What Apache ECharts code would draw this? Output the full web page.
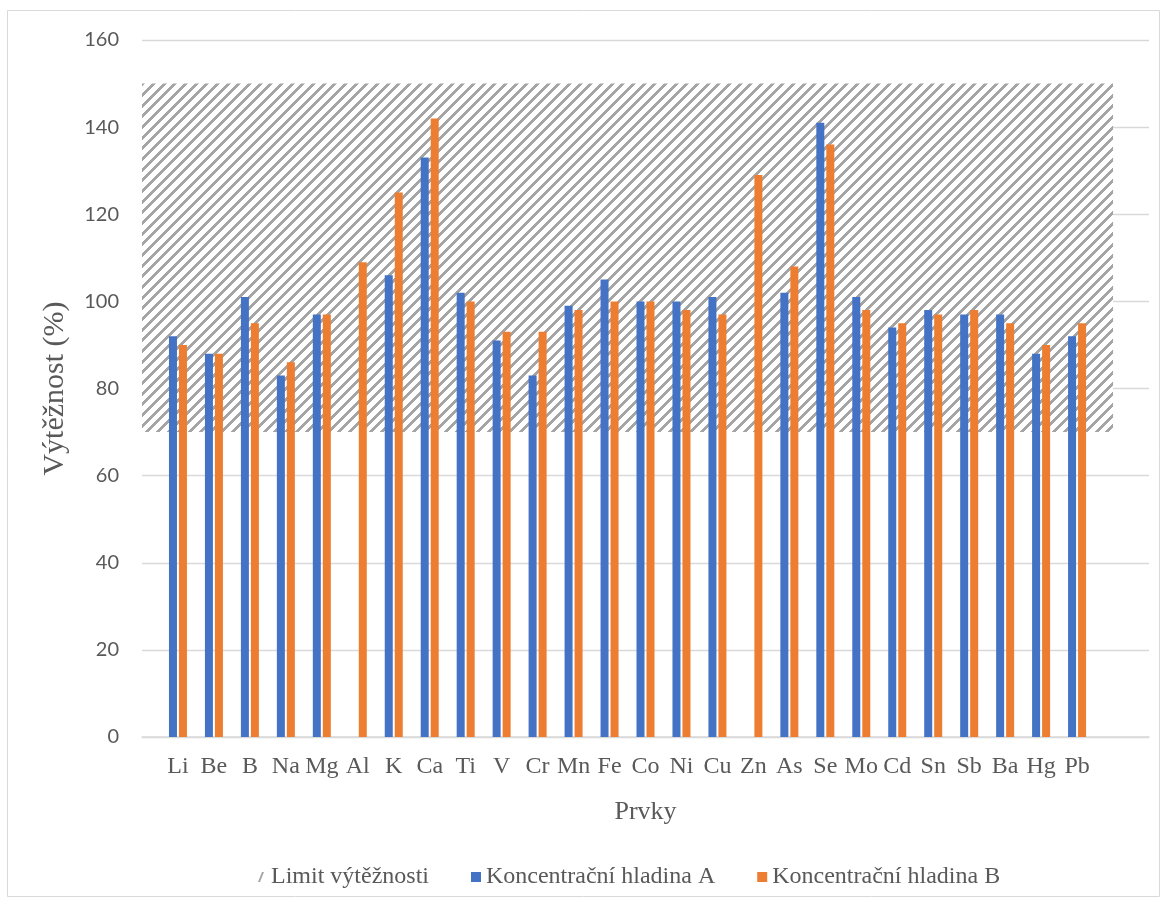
<!DOCTYPE html>
<html>
<head>
<meta charset="utf-8">
<script src="https://cdn.jsdelivr.net/npm/echarts@6/dist/echarts.min.js"></script>
<style>
  html, body { margin: 0; padding: 0; background: #fff; }
  #chart { width: 1167px; height: 903px; }
</style>
</head>
<body>
<div id="chart"></div>
<script>
// Prvky (chemical elements) on the category axis
const elements = ['Li', 'Be', 'B', 'Na', 'Mg', 'Al', 'K', 'Ca', 'Ti', 'V', 'Cr', 'Mn', 'Fe',
  'Co', 'Ni', 'Cu', 'Zn', 'As', 'Se', 'Mo', 'Cd', 'Sn', 'Sb', 'Ba', 'Hg', 'Pb'];

// Výtěžnost (%) for concentration level A (null = no result)
const levelA = [92, 88, 101, 83, 97, null, 106, 133, 102, 91, 83, 99, 105,
  100, 100, 101, null, 102, 141, 101, 94, 98, 97, 97, 88, 92];

// Výtěžnost (%) for concentration level B
const levelB = [90, 88, 95, 86, 97, 109, 125, 142, 100, 93, 93, 98, 100,
  100, 98, 97, 129, 108, 136, 98, 95, 97, 98, 95, 90, 95];

// Acceptable recovery range
const limitLower = 70;
const limitUpper = 150;

// Value axis ticks
const yMin = 0, yMax = 160, yStep = 20;

const names = {
  limit: 'Limit výtěžnosti',
  a: 'Koncentrační hladina A',
  b: 'Koncentrační hladina B'
};

// The category axis runs on tick marks with one empty slot before the
// elements and two after them; the limit band spans slots 0..n+1.
const slots = [''].concat(elements, ['', '']);
const pad = arr => [null].concat(arr, [null, null]);
const bandSlots = elements.length + 2;
const bandBase = slots.map((_, i) => (i < bandSlots ? limitLower : null));
const bandSpan = slots.map((_, i) => (i < bandSlots ? limitUpper - limitLower : null));

// Wide upward diagonal hatch used for the limit band
function hatchPattern() {
  const size = 32, period = size / 3, thick = 4;
  const c = document.createElement('canvas');
  c.width = size; c.height = size;
  const g = c.getContext('2d');
  g.fillStyle = '#ffffff';
  g.fillRect(0, 0, size, size);
  g.fillStyle = '#a5a5a5';
  for (let y = 0; y < size; y++) {
    for (let x = 0; x < size; x++) {
      if (((x + y) % period) < thick) g.fillRect(x, y, 1, 1);
    }
  }
  return c;
}
const hatch = { image: hatchPattern(), repeat: 'repeat' };

const serif = 'Liberation Serif';
const sans = 'Lato';
const textGray = '#595959';
const lineGray = '#d9d9d9';

const chart = echarts.init(document.getElementById('chart'), null, { renderer: 'canvas' });

chart.setOption({
  animation: false,
  backgroundColor: '#ffffff',
  graphic: [{
    type: 'rect',
    shape: { x: 7.5, y: 10.5, width: 1152, height: 886 },
    style: { fill: 'none', stroke: lineGray, lineWidth: 1 },
    silent: true,
    z: -10
  }],
  grid: { left: 142, right: 18, top: 40, bottom: 166, containLabel: false },
  legend: {
    left: 253,
    top: 860,
    itemWidth: 10,
    itemHeight: 10,
    itemGap: 42,
    textStyle: { fontFamily: serif, fontSize: 24, color: textGray },
    data: [
      { name: names.limit, icon: 'path://M0,10 L4,0 L6,0 L2,10 Z', itemStyle: { color: '#a5a5a5' } },
      { name: names.a, icon: 'rect' },
      { name: names.b, icon: 'rect' }
    ]
  },
  xAxis: {
    type: 'category',
    data: slots,
    boundaryGap: false,
    name: 'Prvky',
    nameLocation: 'middle',
    nameGap: 62,
    nameTextStyle: { fontFamily: serif, fontSize: 26, color: textGray },
    axisLine: { lineStyle: { color: lineGray, width: 1.5 } },
    axisTick: { show: false },
    axisLabel: { interval: 0, margin: 18, fontFamily: serif, fontSize: 24, color: textGray },
    splitLine: { show: false }
  },
  yAxis: {
    type: 'value',
    min: yMin,
    max: yMax,
    interval: yStep,
    name: 'Výtěžnost (%)',
    nameLocation: 'middle',
    nameGap: 72,
    nameTextStyle: { fontFamily: serif, fontSize: 30, color: textGray },
    axisLine: { show: false },
    axisTick: { show: false },
    axisLabel: { margin: 23, fontFamily: sans, fontSize: 20, color: textGray },
    splitLine: { lineStyle: { color: lineGray, width: 1.3 } }
  },
  series: [
    {
      name: 'limitBase',
      type: 'line',
      stack: 'limit',
      data: bandBase,
      symbol: 'none',
      lineStyle: { opacity: 0, width: 0 },
      silent: true,
      z: 1
    },
    {
      name: names.limit,
      type: 'line',
      stack: 'limit',
      data: bandSpan,
      symbol: 'none',
      lineStyle: { opacity: 0, width: 0 },
      itemStyle: { color: '#a5a5a5' },
      areaStyle: { color: hatch, opacity: 1 },
      silent: true,
      z: 1
    },
    {
      name: names.a,
      type: 'bar',
      data: pad(levelA),
      barWidth: 8,
      barGap: '25%',
      itemStyle: { color: '#4472c4' },
      z: 3
    },
    {
      name: names.b,
      type: 'bar',
      data: pad(levelB),
      barWidth: 8,
      barGap: '25%',
      itemStyle: { color: '#ed7d31' },
      z: 3
    }
  ]
});
</script>
</body>
</html>
